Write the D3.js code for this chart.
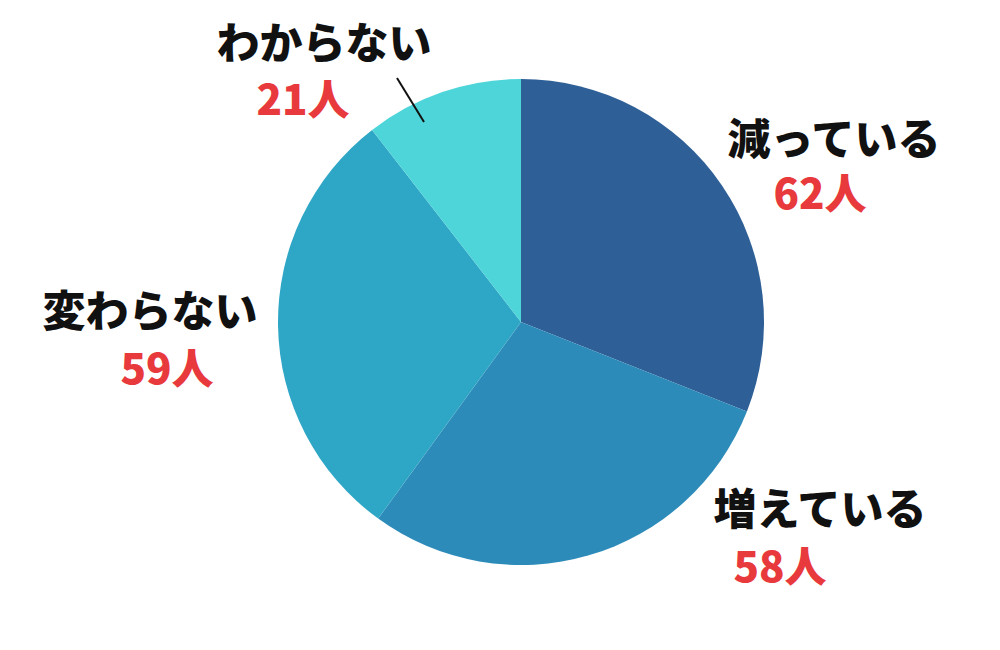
<!DOCTYPE html>
<html><head><meta charset="utf-8">
<script src="https://cdn.jsdelivr.net/npm/d3@7"></script>
<style>body{margin:0;background:#fff}svg{display:block}</style>
</head><body>
<svg id="c" width="1000" height="650"></svg>
<script>
const categories = ["減っている", "増えている", "変わらない", "わからない"];
const values = [62, 58, 59, 21];
const valueLabels = ["62人", "58人", "59人", "21人"];
const colors = ["#2E5F96", "#2D8BBA", "#2EA6C5", "#4DD5D9"];

const svg = d3.select("#c");
const cx = 521, cy = 322, r = 243;
const g = svg.append("g").attr("transform", `translate(${cx},${cy})`);
const pie = d3.pie().sort(null).value(d => d)(values);
const arc = d3.arc().innerRadius(0).outerRadius(r);
g.selectAll("path").data(pie).join("path")
  .attr("d", arc).attr("fill", (d, i) => colors[i]);

// label positions (name center x, name baseline, value center x, value baseline)
const pos = [
  [834, 155, 820, 209],
  [820, 525, 780, 582],
  [150, 327, 167, 384],
  [324, 59, 303, 115]
];
const font = "'Noto Sans CJK JP', 'Noto Sans', sans-serif";
categories.forEach((c, i) => {
  svg.append("text").attr("x", pos[i][0]).attr("y", pos[i][1])
    .attr("text-anchor", "middle").attr("font-family", font)
    .attr("font-weight", 900).attr("font-size", 43).attr("fill", "#111")
    .text(c);
  svg.append("text").attr("x", pos[i][2]).attr("y", pos[i][3])
    .attr("text-anchor", "middle").attr("font-family", font)
    .attr("font-weight", 900).attr("font-size", 42).attr("fill", "#E8393C")
    .text(valueLabels[i]);
});
// leader line for small slice
svg.append("line").attr("x1", 397).attr("y1", 78).attr("x2", 424).attr("y2", 122)
  .attr("stroke", "#111").attr("stroke-width", 2);
</script>
</body></html>
